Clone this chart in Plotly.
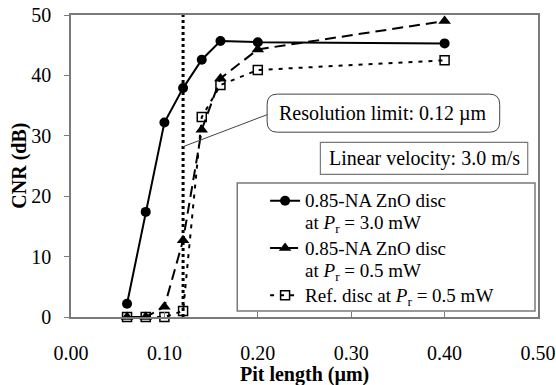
import plotly.graph_objects as go

pit_length = [0.06, 0.08, 0.10, 0.12, 0.14, 0.16, 0.20, 0.40]
cnr_zno_3mw = [2.2, 17.4, 32.2, 37.9, 42.6, 45.7, 45.5, 45.3]
cnr_zno_05mw = [0.0, 0.0, 1.7, 12.7, 31.0, 39.5, 44.3, 49.0]
cnr_ref_05mw = [0.0, 0.0, 0.0, 1.0, 33.1, 38.4, 40.9, 42.5]

x_ticks = [0.0, 0.1, 0.2, 0.3, 0.4, 0.5]
x_tick_labels = ["0.00", "0.10", "0.20", "0.30", "0.40", "0.50"]
y_ticks = [0, 10, 20, 30, 40, 50]
resolution_limit = 0.12

FONT = "Liberation Serif"
GRAY = "#7a7a7a"


def big(s):
    return "<span style='font-size:19px'>" + s + "</span>"


fig = go.Figure()

fig.add_trace(go.Scatter(
    x=pit_length, y=cnr_zno_3mw, mode="lines+markers",
    name=big("0.85-NA ZnO disc") + "<br>" + big("at <i>P</i><sub>r</sub> = 3.0 mW"),
    line=dict(color="black", width=2),
    marker=dict(symbol="circle", size=10, color="black"),
    cliponaxis=False))
fig.add_trace(go.Scatter(
    x=pit_length, y=cnr_zno_05mw, mode="lines+markers",
    name=big("0.85-NA ZnO disc") + "<br>" + big("at <i>P</i><sub>r</sub> = 0.5 mW"),
    line=dict(color="black", width=2, dash="11px,6px"),
    marker=dict(symbol="triangle-up", size=11, color="black"),
    cliponaxis=False))
fig.add_trace(go.Scatter(
    x=pit_length, y=cnr_ref_05mw, mode="lines+markers",
    name=big("Ref. disc at <i>P</i><sub>r</sub> = 0.5 mW"),
    line=dict(color="black", width=2, dash="4px,6px"),
    marker=dict(symbol="square-open", size=9, color="black",
                line=dict(width=1.5, color="black")),
    cliponaxis=False))

# resolution limit vertical line
fig.add_shape(type="line", x0=resolution_limit, x1=resolution_limit, y0=0, y1=50,
              xref="x", yref="y", line=dict(color="black", width=3, dash="dot"))

# rounded box for resolution limit
bx0, bx1, by0, by1 = 0.210, 0.459, 30.6, 36.9
rx, ry = 0.011, 1.7
path = (f"M {bx0+rx},{by1} L {bx1-rx},{by1} Q {bx1},{by1} {bx1},{by1-ry} "
        f"L {bx1},{by0+ry} Q {bx1},{by0} {bx1-rx},{by0} L {bx0+rx},{by0} "
        f"Q {bx0},{by0} {bx0},{by0+ry} L {bx0},{by1-ry} Q {bx0},{by1} {bx0+rx},{by1} Z")
fig.add_shape(type="path", path=path, xref="x", yref="y",
              line=dict(color="#444", width=1), fillcolor="white")
fig.add_shape(type="line", x0=resolution_limit, y0=28.2, x1=bx0, y1=33.5,
              xref="x", yref="y", line=dict(color="#444", width=1))
fig.add_annotation(x=(bx0 + bx1) / 2, y=(by0 + by1) / 2, xref="x", yref="y",
                   text="Resolution limit: 0.12 µm", showarrow=False,
                   font=dict(family=FONT, size=20, color="black"))

# linear velocity box
fig.add_shape(type="rect", x0=0.267, x1=0.489, y0=23.6, y1=28.9, xref="x", yref="y",
              line=dict(color=GRAY, width=1.2), fillcolor="white")
fig.add_annotation(x=0.378, y=26.25, xref="x", yref="y",
                   text="Linear velocity: 3.0 m/s", showarrow=False,
                   font=dict(family=FONT, size=20, color="black"))

# legend frame
fig.add_shape(type="rect", x0=0.178, x1=0.4968, y0=1.0, y1=22.2, xref="x", yref="y",
              line=dict(color=GRAY, width=1.5), fillcolor="white", layer="below")

# axis titles
fig.add_annotation(x=0.5, y=-0.192, xref="paper", yref="paper",
                   xanchor="center", yanchor="middle",
                   text="<b>Pit length (µm)</b>", showarrow=False,
                   font=dict(family=FONT, size=20, color="black"))
fig.add_annotation(x=-0.112, y=0.5, xref="paper", yref="paper", textangle=-90,
                   xanchor="center", yanchor="middle",
                   text="<b>CNR (dB)</b>", showarrow=False,
                   font=dict(family=FONT, size=20, color="black"))

fig.update_layout(
    width=556, height=385,
    margin=dict(l=71, r=18, t=15, b=68, autoexpand=False),
    paper_bgcolor="white", plot_bgcolor="white",
    font=dict(family=FONT, size=20, color="black"),
    showlegend=True,
    legend=dict(x=0.4156, y=0.443, xanchor="left", yanchor="top",
                bgcolor="rgba(0,0,0,0)", borderwidth=0,
                font=dict(family=FONT, size=17, color="black"),
                valign="top", tracegroupgap=0, itemwidth=30),
)
fig.update_xaxes(range=[0, 0.5], tickvals=x_ticks, ticktext=x_tick_labels,
                 showgrid=False, zeroline=False, showline=True, mirror=True,
                 linecolor=GRAY, linewidth=1.5, ticks="inside", ticklen=5,
                 tickcolor=GRAY, ticklabelstandoff=17, automargin=False,
                 tickfont=dict(family=FONT, size=20))
fig.update_yaxes(range=[0, 50], tickvals=y_ticks,
                 showgrid=False, zeroline=False, showline=True, mirror=True,
                 linecolor=GRAY, linewidth=1.5, ticks="outside", ticklen=5,
                 tickcolor=GRAY, ticklabelstandoff=9, automargin=False,
                 tickfont=dict(family=FONT, size=20))

fig.write_html("out.html")
